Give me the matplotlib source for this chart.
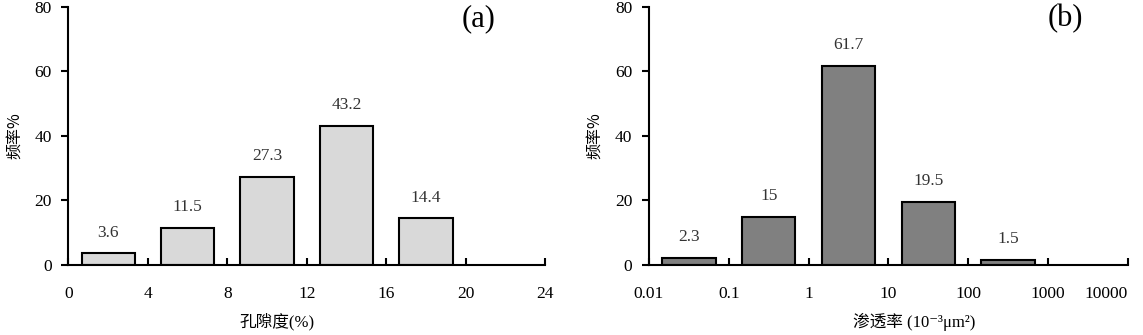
import matplotlib.pyplot as plt

# porosity histogram (a)
por_ticks = ['0', '4', '8', '12', '16', '20', '24']
por_freq = [3.6, 11.5, 27.3, 43.2, 14.4]

# permeability histogram (b)
perm_ticks = ['0.01', '0.1', '1', '10', '100', '1000', '10000']
perm_freq = [2.3, 15, 61.7, 19.5, 1.5]

y_ticks = [0, 20, 40, 60, 80]

num_font = ['Liberation Serif', 'Noto Sans CJK SC', 'DejaVu Sans']
cjk_font = ['Noto Sans CJK SC', 'DejaVu Sans']


def draw_hist(ax, freq, ticks, color, xlabel, xlabel_x, tag, tag_x):
    n = len(ticks) - 1
    centers = [i + 0.5 for i in range(len(freq))]
    ax.bar(centers, freq, width=0.67, color=color, edgecolor='black', linewidth=1.5)

    # value labels above each bar
    for c, v in zip(centers, freq):
        ax.annotate(f'{v:g}', (c, v), xytext=(0, 15), textcoords='offset points',
                    ha='center', va='center', fontsize=12.5, color='#333333', family=num_font)

    ax.set_xlim(0, n)
    ax.set_ylim(0, 80)
    ax.set_xticks(range(n + 1))
    ax.set_xticklabels(ticks, fontsize=12.5, family=num_font)
    ax.set_yticks(y_ticks)
    ax.set_yticklabels([str(t) for t in y_ticks], fontsize=12.5, family=num_font)

    ax.spines['top'].set_visible(False)
    ax.spines['right'].set_visible(False)
    for s in ['left', 'bottom']:
        ax.spines[s].set_linewidth(1.5)
    ax.tick_params(axis='x', direction='in', length=5, width=1.5, pad=15)
    ax.tick_params(axis='y', direction='out', length=5, width=1.5, pad=7)

    ax.set_ylabel('频率%', fontsize=11.5, family=cjk_font)
    ax.yaxis.set_label_coords(-0.095, 0.5)
    ax.set_xlabel(xlabel, fontsize=12, family=num_font)
    ax.xaxis.set_label_coords(xlabel_x, -0.185)

    ax.text(tag_x, 0.955, tag, transform=ax.transAxes, ha='center', va='center',
            fontsize=22, family=num_font)


fig = plt.figure(figsize=(11.43, 3.35), dpi=100)
ax1 = fig.add_axes([0.0599, 0.209, 0.417, 0.771])
ax2 = fig.add_axes([0.5678, 0.209, 0.419, 0.771])

draw_hist(ax1, por_freq, por_ticks, '#d9d9d9', '孔隙度(%)', 0.4375, '(a)', 0.86)
draw_hist(ax2, perm_freq, perm_ticks, '#808080', '渗透率 (10⁻³μm²)', 0.553, '(b)', 0.87)

# last label in (b) sits left of its tick so it stays inside the figure
ax2.get_xticklabels()[-1].set_ha('right')

fig.savefig('out.png', dpi=100)
